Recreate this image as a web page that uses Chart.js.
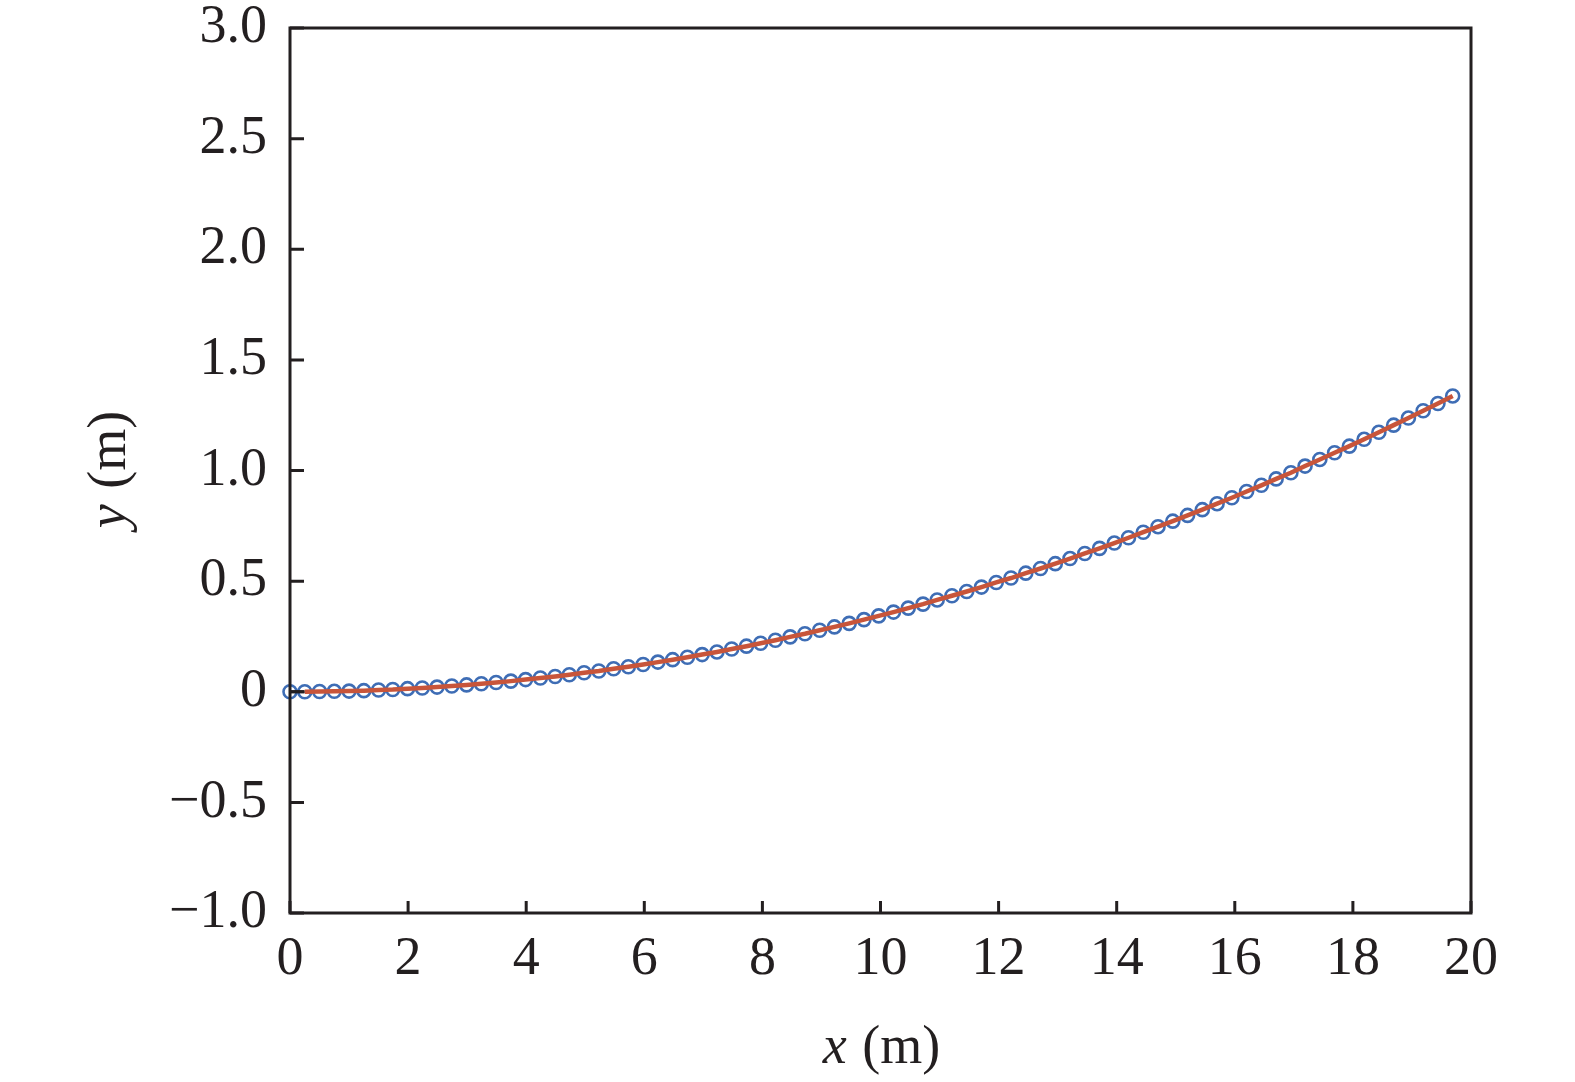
<!DOCTYPE html>
<html>
<head>
<meta charset="utf-8">
<script src="https://cdn.jsdelivr.net/npm/chart.js@4/dist/chart.umd.min.js"></script>
<style>
  body { margin: 0; background: #fff; }
  canvas { display: block; }
</style>
</head>
<body>
<canvas id="chart" width="1575" height="1082"></canvas>
<script>
// measured points (x in m, y in m)
const xValues = [
  0, 0.25, 0.50, 0.75, 1.00, 1.25, 1.50, 1.74, 1.99, 2.24,
  2.49, 2.74, 2.99, 3.24, 3.49, 3.74, 3.99, 4.24, 4.49, 4.73,
  4.98, 5.23, 5.48, 5.73, 5.98, 6.23, 6.48, 6.73, 6.98, 7.23,
  7.48, 7.73, 7.97, 8.22, 8.47, 8.72, 8.97, 9.22, 9.47, 9.72,
  9.97, 10.22, 10.47, 10.72, 10.96, 11.21, 11.46, 11.71, 11.96, 12.21,
  12.46, 12.71, 12.96, 13.21, 13.46, 13.71, 13.96, 14.20, 14.45, 14.70,
  14.95, 15.20, 15.45, 15.70, 15.95, 16.20, 16.45, 16.70, 16.95, 17.19,
  17.44, 17.69, 17.94, 18.19, 18.44, 18.69, 18.94, 19.19, 19.44, 19.69
]
const yValues = [
  0, 0.000, 0.001, 0.002, 0.003, 0.005, 0.008, 0.010, 0.014, 0.017,
  0.021, 0.026, 0.031, 0.036, 0.042, 0.048, 0.055, 0.062, 0.069, 0.077,
  0.086, 0.094, 0.104, 0.113, 0.123, 0.134, 0.145, 0.156, 0.168, 0.180,
  0.193, 0.206, 0.219, 0.233, 0.248, 0.262, 0.278, 0.293, 0.309, 0.326,
  0.343, 0.360, 0.378, 0.396, 0.415, 0.434, 0.453, 0.473, 0.494, 0.514,
  0.536, 0.557, 0.579, 0.602, 0.625, 0.648, 0.672, 0.696, 0.721, 0.746,
  0.771, 0.797, 0.823, 0.850, 0.877, 0.905, 0.933, 0.962, 0.990, 1.020,
  1.050, 1.080, 1.110, 1.141, 1.173, 1.205, 1.237, 1.270, 1.303, 1.337
]
const xTicks = [0, 2, 4, 6, 8, 10, 12, 14, 16, 18, 20]
const yTicks = [-1.0, -0.5, 0, 0.5, 1.0, 1.5, 2.0, 2.5, 3.0]

const points = xValues.map((x, i) => ({ x: x, y: yValues[i] }))

const axisColor = '#231f20'
const serif = '"Liberation Serif", "DejaVu Serif", serif'

// frame, inward tick marks and mixed-style axis titles
const framePlugin = {
  id: 'frame',
  afterDraw(chart) {
    const ctx = chart.ctx
    const a = chart.chartArea
    const xs = chart.scales.x, ys = chart.scales.y
    ctx.save()
    ctx.strokeStyle = axisColor
    ctx.lineWidth = 3
    ctx.beginPath()
    xTicks.forEach(v => {
      const px = xs.getPixelForValue(v)
      ctx.moveTo(px, a.bottom)
      ctx.lineTo(px, a.bottom - 12)
    })
    yTicks.forEach(v => {
      const py = ys.getPixelForValue(v)
      ctx.moveTo(a.left, py)
      ctx.lineTo(a.left + 14, py)
    })
    ctx.stroke()
    ctx.strokeRect(a.left, a.top, a.right - a.left, a.bottom - a.top)

    ctx.fillStyle = '#231f20'
    ctx.textBaseline = 'alphabetic'
    ctx.textAlign = 'left'
    const it = 'italic 54px ' + serif
    const rm = '54px ' + serif
    function mixed(sym, cx, cy) {
      ctx.font = it
      const w1 = ctx.measureText(sym).width
      ctx.font = rm
      const w2 = ctx.measureText(' (m)').width
      const x0 = cx - (w1 + w2) / 2
      ctx.font = it
      ctx.fillText(sym, x0, cy)
      ctx.font = rm
      ctx.fillText(' (m)', x0 + w1 + 2, cy)
    }
    mixed('x', (a.left + a.right) / 2, 1063)
    ctx.translate(125, (a.top + a.bottom) / 2)
    ctx.rotate(-Math.PI / 2)
    mixed('y', 0, 0)
    ctx.restore()
  }
}

const ctx = document.getElementById('chart').getContext('2d')
new Chart(ctx, {
  type: 'scatter',
  data: {
    datasets: [
      {
        label: 'fit',
        type: 'line',
        data: points.slice(1),
        borderColor: '#c8553a',
        borderWidth: 4.5,
        pointRadius: 0,
        fill: false,
        tension: 0,
        clip: false
      },
      {
        label: 'start',
        type: 'line',
        data: points.slice(0, 2),
        borderColor: axisColor,
        borderWidth: 3,
        pointRadius: 0,
        clip: false
      },
      {
        label: 'measured',
        data: points,
        backgroundColor: 'rgba(0,0,0,0)',
        borderColor: '#3e6db5',
        borderWidth: 2.6,
        pointRadius: 6.5,
        showLine: false,
        clip: false
      }
    ]
  },
  options: {
    responsive: false,
    animation: false,
    events: [],
    layout: { padding: { top: 28, right: 104, left: 0, bottom: 0 } },
    plugins: {
      legend: { display: false },
      tooltip: { enabled: false }
    },
    scales: {
      x: {
        type: 'linear',
        min: 0,
        max: 20,
        afterFit: s => { s.height = 169; s.paddingLeft = 0; s.paddingRight = 0 },
        afterBuildTicks: s => { s.ticks = xTicks.map(v => ({ value: v })) },
        grid: { display: false, drawTicks: false },
        border: { display: false },
        ticks: {
          color: '#231f20',
          padding: 14,
          maxRotation: 0,
          font: { family: serif, size: 54 }
        }
      },
      y: {
        type: 'linear',
        min: -1,
        max: 3,
        afterFit: s => { s.width = 290; s.paddingTop = 0; s.paddingBottom = 0 },
        afterBuildTicks: s => { s.ticks = yTicks.map(v => ({ value: v })) },
        grid: { display: false, drawTicks: false },
        border: { display: false },
        ticks: {
          color: '#231f20',
          padding: 23,
          font: { family: serif, size: 54 },
          callback: v => v === 0 ? '0' : (v < 0 ? '\u2212' + Math.abs(v).toFixed(1) : v.toFixed(1))
        }
      }
    }
  },
  plugins: [framePlugin]
})
</script>
</body>
</html>
